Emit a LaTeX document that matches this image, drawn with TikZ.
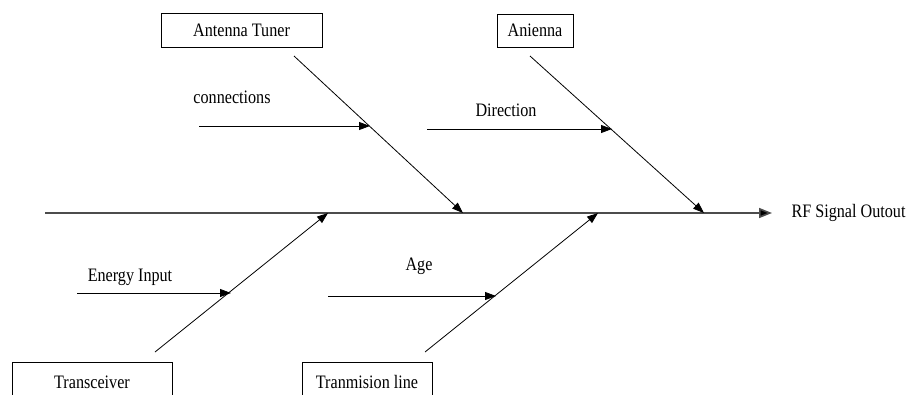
\documentclass[tikz,border=0pt]{standalone}
\usepackage{fontspec}
\setmainfont[FakeStretch=0.85]{Liberation Serif}
\usetikzlibrary{arrows.meta}

\tikzset{
	cause/.style={draw, line width=0.9pt, inner sep=0pt, font=\fontsize{19}{20}\selectfont},
	lbl/.style={font=\fontsize{19}{20}\selectfont},
	bone/.style={line width=0.8pt, -{Triangle[length=11pt,width=8pt]}},
	spine/.style={draw=black!70, line width=1.6pt, -{Triangle[length=13pt,width=10pt,fill=black]}}
}

\begin{document}
\begin{tikzpicture}[x=1pt,y=-1pt]
			\useasboundingbox (0,0) rectangle (909,394);
			% causes
			\node[cause, minimum width=161, minimum height=34]  at (241.5,30)  (tuner)  {Antenna Tuner};
			\node[cause, minimum width=76, minimum height=33]   at (535,30.5)  (ant)    {Anienna};
			\node[cause, minimum width=160, minimum height=40]  at (92,382)    (trx)    {Transceiver};
			\node[cause, minimum width=130, minimum height=40]  at (367,382)   (tline)  {Tranmision line};
			\node[lbl, anchor=west] at (788,213) (out) {RF Signal Outout};
			% spine
			\coordinate (s0) at (45,213);
			\coordinate (s1) at (772,213);
			\draw[spine] (s0) -- (s1);
			% main bones
			\coordinate (b1) at (294,56);   \coordinate (e1) at (463,213);
			\coordinate (b2) at (530,56);   \coordinate (e2) at (704,213);
			\coordinate (b3) at (155,352);  \coordinate (e3) at (328,213);
			\coordinate (b4) at (425,352);  \coordinate (e4) at (598,213);
			\draw[bone] (b1) -- (e1);
			\draw[bone] (b2) -- (e2);
			\draw[bone] (b3) -- (e3);
			\draw[bone] (b4) -- (e4);
			% sub causes
			\node[lbl]  at (232,97)   (con)  {connections};
			\node[lbl]  at (506,110)  (dir)  {Direction};
			\node[lbl]  at (130,277)  (en)   {Energy Input};
			\node[lbl]  at (419,266)  (age)  {Age};
			\coordinate (c0) at (199,126);  \coordinate (c1) at (370,126);
			\coordinate (d0) at (427,129);  \coordinate (d1) at (612,129);
			\coordinate (g0) at (77,293);   \coordinate (g1) at (231,293);
			\coordinate (a0) at (328,296);  \coordinate (a1) at (496,296);
			\draw[bone] (c0) -- (c1);
			\draw[bone] (d0) -- (d1);
			\draw[bone] (g0) -- (g1);
			\draw[bone] (a0) -- (a1);
		\end{tikzpicture}
\end{document}
